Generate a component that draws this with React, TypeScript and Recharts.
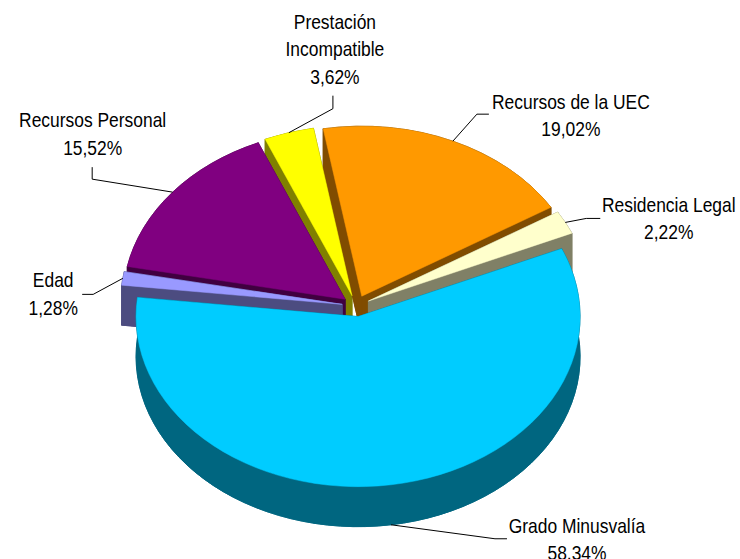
import React from "react";
import { PieChart, Pie } from "recharts";

// slices in drawing order, clockwise from just left of 12 o'clock
const categories = [
  "Recursos de la UEC",
  "Residencia Legal",
  "Grado Minusvalía",
  "Edad",
  "Recursos Personal",
  "Prestación\nIncompatible",
];
const shares = [19.02, 2.22, 58.34, 1.28, 15.52, 3.62];

const topColors = ["#FF9900", "#FFFFCC", "#00CCFF", "#9999FF", "#800080", "#FFFF00"];
const sideColors = ["#804C00", "#808066", "#006680", "#4C4C80", "#400040", "#808000"];

// where each label sits, relative to the point where its leader touches the slice
const labelSpots = [
  { elbow: [24, -27], end: [36, -27], text: [118, -32.5] },
  { elbow: [21, -4], end: [35, -4], text: [103.5, -10.5] },
  { elbow: [104, 14], end: [116, 14], text: [186, 8] },
  { elbow: [-29.6, 16], end: [-40.6, 16], text: [-69.6, 9] },
  { elbow: [-80.5, -13], end: [-80.5, -25], text: [-80, -65] },
  { elbow: [44, -24], end: [44, -37], text: [46, -104] },
];

const rows = categories.map((name, i) => ({ name, value: shares[i] }));

const START = 100;
const TILT = 0.766;
const DEPTH = 40;
const EXPLODE = 14;
const RAD = Math.PI / 180;
const FONT = "'Liberation Sans', Arial, sans-serif";

// paint the side walls back to front (far slices first)
const total = shares.reduce((s, v) => s + v, 0);
const depthKey = shares.map((v, i) => {
  const before = shares.slice(0, i).reduce((s, x) => s + x, 0);
  const mid = START - (360 * (before + v / 2)) / total;
  return Math.sin(mid * RAD);
});
const drawOrder = shares.map((_, i) => i).sort((a, b) => depthKey[b] - depthKey[a]);

function geom(p: any) {
  const { cx, cy, outerRadius: r, startAngle: a1, endAngle: a2, midAngle } = p;
  const c = [
    cx + EXPLODE * Math.cos(midAngle * RAD),
    cy - EXPLODE * TILT * Math.sin(midAngle * RAD),
  ];
  const pt = (a: number, drop = 0) => [
    c[0] + r * Math.cos(a * RAD),
    c[1] - r * TILT * Math.sin(a * RAD) + drop,
  ];
  const large = Math.abs(a1 - a2) > 180 ? 1 : 0;
  const sweep = a2 < a1 ? 1 : 0;
  const arc = (to: number[], rev = false) =>
    `A ${r} ${r * TILT} 0 ${large} ${rev ? 1 - sweep : sweep} ${to[0]} ${to[1]}`;
  const face = (drop: number) => {
    const s = pt(a1, drop);
    const e = pt(a2, drop);
    return `M ${c[0]} ${c[1] + drop} L ${s[0]} ${s[1]} ${arc(e)} Z`;
  };
  return { c, pt, arc, face, a1, a2, r };
}

const sideRenderer = (only: number) => (p: any) => {
  if (p.index !== only) return <g key={`side-${p.index}`} />;
  const g = geom(p);
  const color = sideColors[p.index];
  const s0 = g.pt(g.a1);
  const e0 = g.pt(g.a2);
  const s1 = g.pt(g.a1, DEPTH);
  const e1 = g.pt(g.a2, DEPTH);
  const [x, y] = g.c;
  const paths = [
    g.face(DEPTH),
    `M ${s0[0]} ${s0[1]} ${g.arc(e0)} L ${e1[0]} ${e1[1]} ${g.arc(s1, true)} Z`,
    `M ${x} ${y} L ${s0[0]} ${s0[1]} L ${s1[0]} ${s1[1]} L ${x} ${y + DEPTH} Z`,
    `M ${x} ${y} L ${e0[0]} ${e0[1]} L ${e1[0]} ${e1[1]} L ${x} ${y + DEPTH} Z`,
  ];
  return (
    <g key={`side-${p.index}`}>
      {paths.map((d, i) => (
        <path key={i} d={d} fill={color} stroke={color} strokeWidth={0.8} strokeLinejoin="round" />
      ))}
    </g>
  );
};

function renderTop(p: any) {
  const g = geom(p);
  return (
    <path
      key={`top-${p.index}`}
      d={g.face(0)}
      fill={topColors[p.index]}
      stroke={topColors[p.index]}
      strokeWidth={0.5}
    />
  );
}

function renderLabel(p: any) {
  const g = geom(p);
  const front = Math.sin(p.midAngle * RAD) < 0;
  const [ax, ay] = g.pt(p.midAngle, front ? DEPTH : 0);
  const spot = labelSpots[p.index];
  const lines = [...String(p.name).split("\n"), `${p.value.toFixed(2).replace(".", ",")}%`];
  const tx = ax + spot.text[0];
  const ty = ay + spot.text[1];
  return (
    <g key={`label-${p.index}`}>
      <polyline
        points={`${ax},${ay} ${ax + spot.elbow[0]},${ay + spot.elbow[1]} ${ax + spot.end[0]},${ay + spot.end[1]}`}
        fill="none"
        stroke="#000"
        strokeWidth={1}
      />
      {/* narrow face: Arial squeezed horizontally */}
      <g transform={`translate(${tx} ${ty}) scale(0.85 1)`}>
        <text x={0} y={0} textAnchor="middle" fontFamily={FONT} fontSize={20.5} fill="#000">
          {lines.map((line, j) => (
            <tspan key={j} x={0} dy={j === 0 ? 0 : 27.5}>
              {line}
            </tspan>
          ))}
        </text>
      </g>
    </g>
  );
}

export default function App() {
  const pieProps = {
    data: rows,
    dataKey: "value",
    nameKey: "name",
    cx: 356,
    cy: 306,
    outerRadius: 222,
    startAngle: START,
    endAngle: START - 360,
    fill: "none",
    stroke: "none",
    labelLine: false,
    legendType: "none" as const,
    isAnimationActive: false,
  };

  return (
    <div style={{ position: "absolute", left: 0, top: 0, background: "#fff" }}>
      <PieChart width={740} height={559} margin={{ top: 0, right: 0, bottom: 0, left: 0 }}>
        {drawOrder.map((idx) => (
          <Pie key={`sides-${idx}`} {...pieProps} label={sideRenderer(idx)} />
        ))}
        <Pie {...pieProps} label={renderTop} />
        <Pie {...pieProps} label={renderLabel} />
      </PieChart>
    </div>
  );
}
